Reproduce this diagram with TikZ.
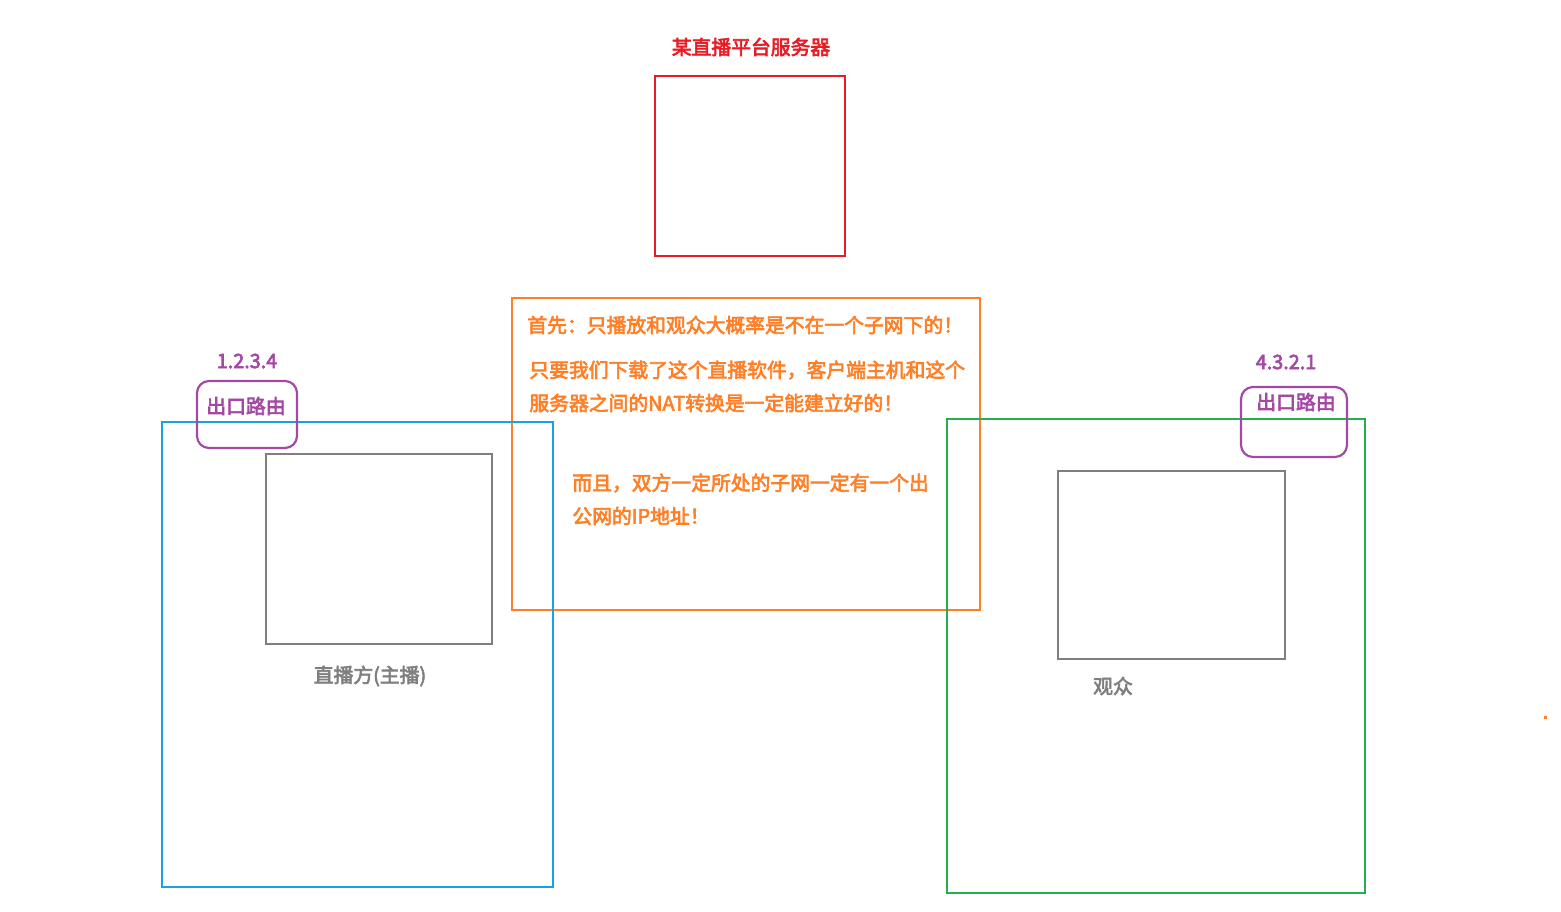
\documentclass[tikz,border=0pt]{standalone}
\usepackage{fontspec}
\setmainfont{Noto Sans CJK SC}[AutoFakeBold=3.2]
\definecolor{cr}{HTML}{E81C24}
\definecolor{co}{HTML}{FF7F27}
\definecolor{cb}{HTML}{1BA1E2}
\definecolor{cg}{HTML}{22B14C}
\definecolor{cgr}{HTML}{7F7F7F}
\definecolor{cp}{HTML}{A349A4}
\begin{document}
\begin{tikzpicture}[x=0.5pt,y=-0.5pt,
  box/.style={draw,line width=1.1pt},
  txt/.style={font=\fontsize{9.9}{11}\selectfont\bfseries,inner sep=0pt},
  rt/.style={box,draw=cp,rounded corners=6pt}]
\useasboundingbox (0,0) rectangle (1561,911);
\node[txt,text=cr] (t) at (751,47) {某直播平台服务器};
\draw[box,draw=cr] (655,76) rectangle (845,256);
\draw[box,draw=co] (512,298) rectangle (980,610);
\node[txt,text=co,anchor=west] (l1) at (527,325) {首先：只播放和观众大概率是不在一个子网下的！};
\node[txt,text=co,anchor=west] (l2) at (529,370) {只要我们下载了这个直播软件，客户端主机和这个};
\node[txt,text=co,anchor=west] (l3) at (529,403) {服务器之间的NAT转换是一定能建立好的！};
\node[txt,text=co,anchor=west] (l4) at (572,483) {而且，双方一定所处的子网一定有一个出};
\node[txt,text=co,anchor=west] (l5) at (572,516) {公网的IP地址！};
\draw[box,draw=cb] (162,422) rectangle (553,887);
\draw[box,draw=cgr] (266,454) rectangle (492,644);
\node[txt,text=cgr] (a) at (370,676) {直播方(主播)};
\draw[rt] (197,381) rectangle (297,448);
\node[txt,text=cp] (r1) at (246,406) {出口路由};
\node[txt,text=cp] (ip1) at (247,361) {1.2.3.4};
\draw[box,draw=cg] (947,419) rectangle (1365,893);
\draw[box,draw=cgr] (1058,471) rectangle (1285,659);
\node[txt,text=cgr] (v) at (1113,686) {观众};
\draw[rt] (1241,387) rectangle (1347,457);
\node[txt,text=cp] (r2) at (1296,402) {出口路由};
\node[txt,text=cp] (ip2) at (1286,362) {4.3.2.1};
\fill[co] (1544,716) rectangle (1547,719);
\end{tikzpicture}
\end{document}
